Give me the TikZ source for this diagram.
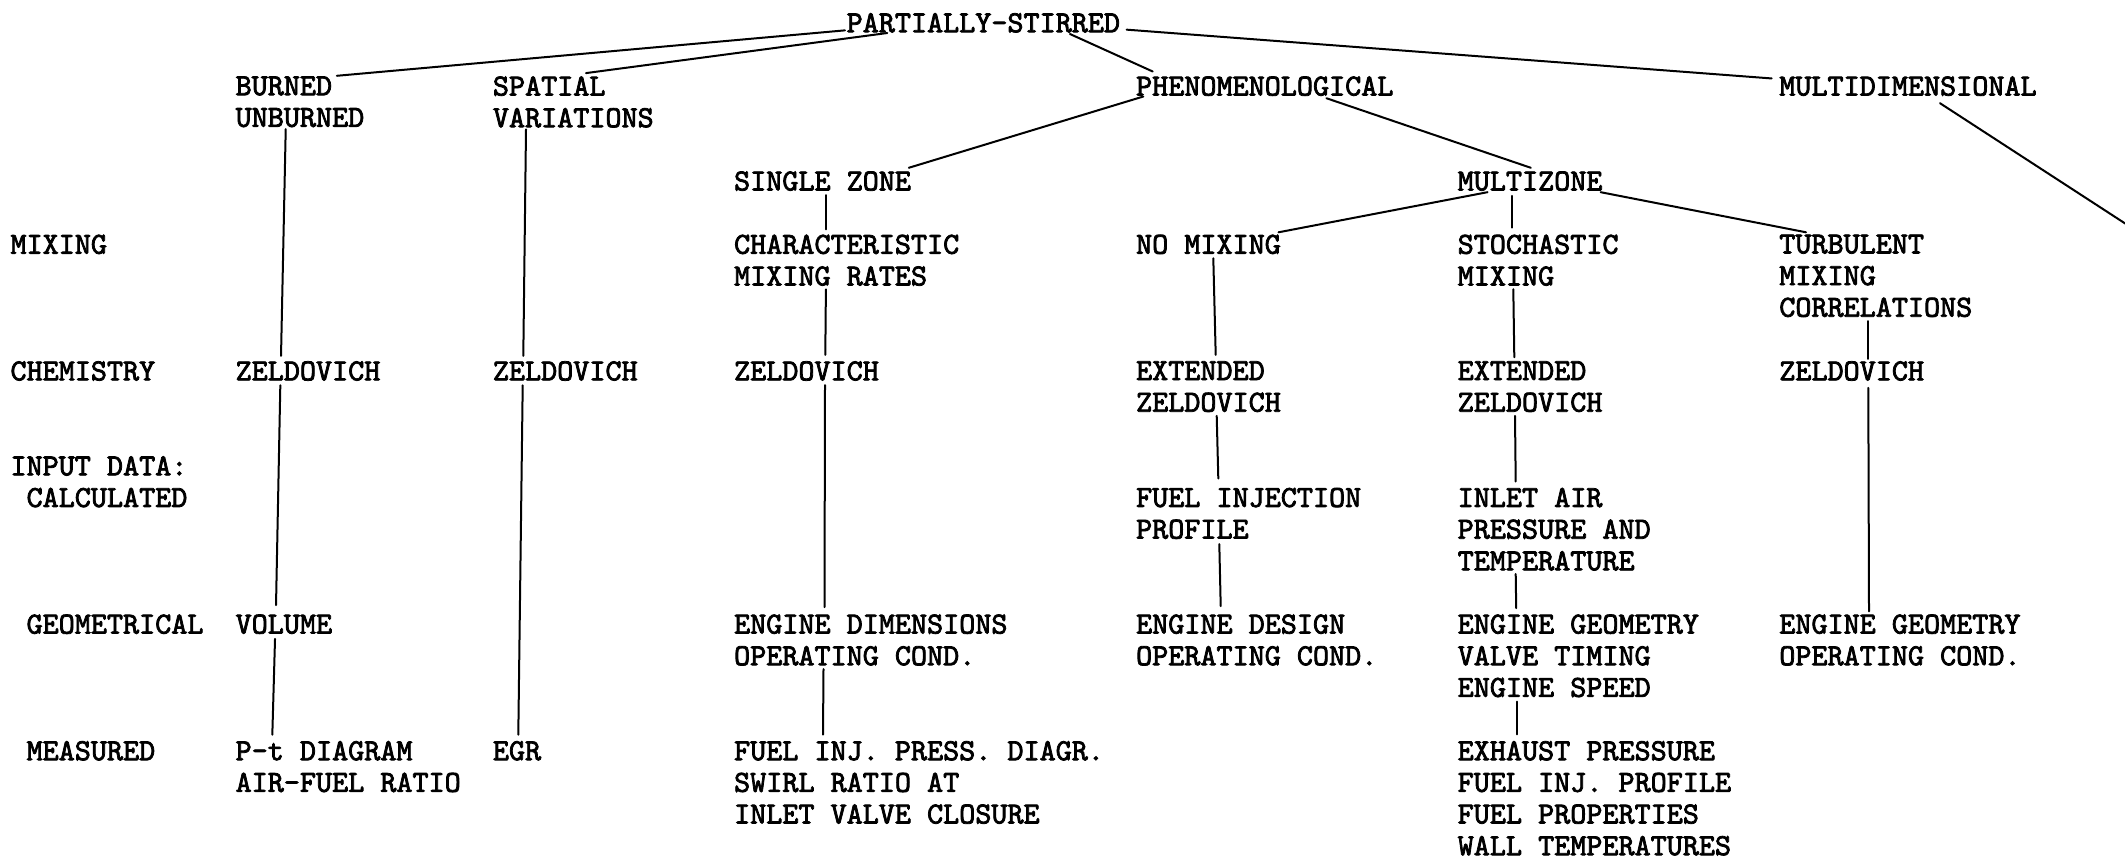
\documentclass[tikz,border=0pt]{standalone}
\usepackage{fontspec}
\newfontfamily\typew{lmmono10-regular.otf}[FakeBold=2.5]
\newcommand{\colx}[1]{10.5+16.08*#1}
\newcommand{\rowy}[1]{13.15+31.65*#1}
\begin{document}
\begin{tikzpicture}[x=1pt,y=-1pt,
  lbl/.style={anchor=north west, inner sep=0pt, outer sep=0pt, align=left,
    font=\typew\fontsize{30.63}{31.65}\selectfont},
  con/.style={line width=2pt, black, line cap=round}]
\fill[white] (0,0) rectangle (2125,858);
\useasboundingbox (0,0) rectangle (2125,858);
% top levels
\node[lbl] (ps) at (\colx{52},\rowy{0}) {PARTIALLY-STIRRED};
\node[lbl] (bu) at (\colx{14},\rowy{2}) {BURNED\\UNBURNED};
\node[lbl] (sv) at (\colx{30},\rowy{2}) {SPATIAL\\VARIATIONS};
\node[lbl] (ph) at (\colx{70},\rowy{2}) {PHENOMENOLOGICAL};
\node[lbl] (md) at (\colx{110},\rowy{2}) {MULTIDIMENSIONAL};
\node[lbl] (sz) at (\colx{45},\rowy{5}) {SINGLE ZONE};
\node[lbl] (mz) at (\colx{90},\rowy{5}) {MULTIZONE};
% row labels
\node[lbl] (lmix) at (\colx{0},\rowy{7}) {MIXING};
\node[lbl] (lchem) at (\colx{0},\rowy{11}) {CHEMISTRY};
\node[lbl] (linp) at (\colx{0},\rowy{14}) {INPUT DATA:};
\node[lbl] (lcalc) at (\colx{1},\rowy{15}) {CALCULATED};
\node[lbl] (lgeo) at (\colx{1},\rowy{19}) {GEOMETRICAL};
\node[lbl] (lmeas) at (\colx{1},\rowy{23}) {MEASURED};
% mixing row
\node[lbl] (cmr) at (\colx{45},\rowy{7}) {CHARACTERISTIC\\MIXING RATES};
\node[lbl] (nm) at (\colx{70},\rowy{7}) {NO MIXING};
\node[lbl] (sm) at (\colx{90},\rowy{7}) {STOCHASTIC\\MIXING};
\node[lbl] (tmc) at (\colx{110},\rowy{7}) {TURBULENT\\MIXING\\CORRELATIONS};
% chemistry row
\node[lbl] (z1) at (\colx{14},\rowy{11}) {ZELDOVICH};
\node[lbl] (z2) at (\colx{30},\rowy{11}) {ZELDOVICH};
\node[lbl] (z3) at (\colx{45},\rowy{11}) {ZELDOVICH};
\node[lbl] (ez4) at (\colx{70},\rowy{11}) {EXTENDED\\ZELDOVICH};
\node[lbl] (ez5) at (\colx{90},\rowy{11}) {EXTENDED\\ZELDOVICH};
\node[lbl] (z6) at (\colx{110},\rowy{11}) {ZELDOVICH};
% calculated row
\node[lbl] (fip) at (\colx{70},\rowy{15}) {FUEL INJECTION\\PROFILE};
\node[lbl] (iap) at (\colx{90},\rowy{15}) {INLET AIR\\PRESSURE AND\\TEMPERATURE};
% geometrical row
\node[lbl] (vol) at (\colx{14},\rowy{19}) {VOLUME};
\node[lbl] (edo) at (\colx{45},\rowy{19}) {ENGINE DIMENSIONS\\OPERATING COND.};
\node[lbl] (edd) at (\colx{70},\rowy{19}) {ENGINE DESIGN\\OPERATING COND.};
\node[lbl] (egv) at (\colx{90},\rowy{19}) {ENGINE GEOMETRY\\VALVE TIMING\\ENGINE SPEED};
\node[lbl] (ego) at (\colx{110},\rowy{19}) {ENGINE GEOMETRY\\OPERATING COND.};
% measured row
\node[lbl] (pt) at (\colx{14},\rowy{23}) {P-t DIAGRAM\\AIR-FUEL RATIO};
\node[lbl] (egr) at (\colx{30},\rowy{23}) {EGR};
\node[lbl] (fis) at (\colx{45},\rowy{23}) {FUEL INJ. PRESS. DIAGR.\\SWIRL RATIO AT\\INLET VALVE CLOSURE};
\node[lbl] (exh) at (\colx{90},\rowy{23}) {EXHAUST PRESSURE\\FUEL INJ. PROFILE\\FUEL PROPERTIES\\WALL TEMPERATURES};
\coordinate (mdend) at (2127,224.7);
% diagonal connectors
\draw[con] ([xshift=-1.7pt,yshift=-7.5pt]ps.west) -- ([xshift=101.2pt,yshift=0.65pt]bu.north west);
\draw[con] ([xshift=40.6pt,yshift=-0.45pt]ps.south west) -- ([xshift=93.1pt,yshift=3.35pt]sv.north west);
\draw[con] ([xshift=223.3pt,yshift=-1.45pt]ps.south west) -- ([xshift=16.6pt,yshift=4.95pt]ph.north west);
\draw[con] ([xshift=6.6pt,yshift=-6.8pt]ps.east) -- ([xshift=-7.6pt,yshift=7.7pt]md.west);
\draw[con] ([xshift=160.7pt,yshift=-7.35pt]md.south west) -- (mdend);
\draw[con] ([xshift=7.2pt,yshift=-0.65pt]ph.south west) -- ([xshift=-2.2pt,yshift=3.6pt]sz.north east);
\draw[con] ([xshift=190.3pt,yshift=-2.35pt]ph.south west) -- ([xshift=73.1pt,yshift=3.6pt]mz.north west);
\draw[con] ([xshift=29.8pt,yshift=-1.4pt]mz.south west) -- ([xshift=-2.3pt,yshift=2.4pt]nm.north east);
\draw[con] ([xshift=-1.8pt,yshift=-1.4pt]mz.south east) -- ([xshift=26.7pt,yshift=2.4pt]tmc.north west);
% vertical connectors
\draw[con] ([xshift=54pt,yshift=-5pt]mz.south west) -- ([xshift=54pt,yshift=7.1pt]sm.north west);
\draw[con] ([xshift=91.9pt,yshift=-4.4pt]sz.south west) -- ([xshift=91.9pt,yshift=5.4pt]cmr.north west);
\draw[con] ([xshift=50.1pt,yshift=-1.9pt]bu.south west) -- ([xshift=45.4pt,yshift=5.4pt]z1.north west);
\draw[con] ([xshift=44.7pt,yshift=-4.6pt]z1.south west) -- ([xshift=40.4pt,yshift=9.4pt]vol.north west);
\draw[con] ([xshift=39.4pt,yshift=-4.9pt]vol.south west) -- ([xshift=36.7pt,yshift=6.4pt]pt.north west);
\draw[con] ([xshift=33.1pt,yshift=-1.9pt]sv.south west) -- ([xshift=30.4pt,yshift=5.4pt]z2.north west);
\draw[con] ([xshift=29.8pt,yshift=-4.6pt]z2.south west) -- ([xshift=25.4pt,yshift=6.4pt]egr.north west);
\draw[con] ([xshift=91.8pt,yshift=-3.6pt]cmr.south west) -- ([xshift=91.2pt,yshift=6.4pt]z3.north west);
\draw[con] ([xshift=90.9pt,yshift=-4.4pt]z3.south west) -- ([xshift=90.4pt,yshift=7.4pt]edo.north west);
\draw[con] ([xshift=89.4pt,yshift=-3.65pt]edo.south west) -- ([xshift=88.9pt,yshift=6.4pt]fis.north west);
\draw[con] ([xshift=77.2pt,yshift=-4.2pt]nm.south west) -- ([xshift=79.6pt,yshift=6.4pt]ez4.north west);
\draw[con] ([xshift=80.6pt,yshift=-3.85pt]ez4.south west) -- ([xshift=82.2pt,yshift=9.4pt]fip.north west);
\draw[con] ([xshift=83.2pt,yshift=-5.15pt]fip.south west) -- ([xshift=84.6pt,yshift=8.4pt]edd.north west);
\draw[con] ([xshift=55.6pt,yshift=-3.45pt]sm.south west) -- ([xshift=56.6pt,yshift=4.1pt]ez5.north west);
\draw[con] ([xshift=57.3pt,yshift=-3.85pt]ez5.south west) -- ([xshift=58pt,yshift=6.4pt]iap.north west);
\draw[con] ([xshift=58pt,yshift=-3.4pt]iap.south west) -- ([xshift=58.5pt,yshift=6.4pt]egv.north west);
\draw[con] ([xshift=59pt,yshift=-4.4pt]egv.south west) -- ([xshift=59pt,yshift=6.7pt]exh.north west);
\draw[con] ([xshift=88.7pt,yshift=-4.1pt]tmc.south west) -- ([xshift=88.7pt,yshift=2.4pt]z6.north west);
\draw[con] ([xshift=89pt,yshift=-7.2pt]z6.south west) -- ([xshift=89.7pt,yshift=3.1pt]ego.north west);
\end{tikzpicture}
\end{document}
